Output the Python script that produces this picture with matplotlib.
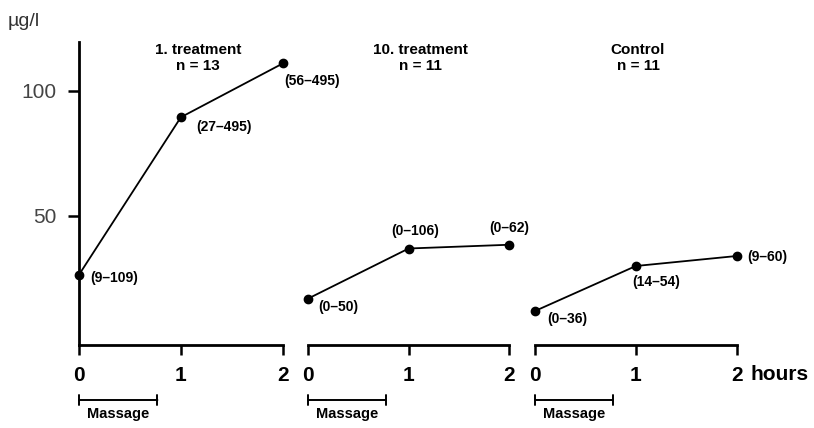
import matplotlib
matplotlib.use("Agg")
import matplotlib.pyplot as plt

plt.rcParams['font.family'] = ['Liberation Sans', 'DejaVu Sans']

hours = [0, 1, 2]
panel_titles = ["1. treatment\nn = 13", "10. treatment\nn = 11", "Control\nn = 11"]
values_t1 = [26.5, 89.5, 111]
values_t10 = [17, 37, 38.5]
values_ctrl = [12, 30, 34]
ranges_t1 = ["(9–109)", "(27–495)", "(56–495)"]
ranges_t10 = ["(0–50)", "(0–106)", "(0–62)"]
ranges_ctrl = ["(0–36)", "(14–54)", "(9–60)"]
massage_end = 0.77
yticks = [50, 100]

series = [values_t1, values_t10, values_ctrl]
ranges = [ranges_t1, ranges_t10, ranges_ctrl]

# label offsets in pixels (dx, dy upward), ha
px = 72 / 100
label_pos = [
    [(11, -3, 'left'), (15, -10, 'left'), (2, -18, 'left')],
    [(10, -9, 'left'), (7, 18, 'center'), (0, 17, 'center')],
    [(12, -8, 'left'), (20, -16, 'center'), (11, -1, 'left')],
]

W, H = 814, 428
fig = plt.figure(figsize=(W / 100, H / 100), dpi=100)
fig.patch.set_facecolor('white')

left_px = [79, 308.3, 535]
width_px = [203.7, 200.7, 201.7]
bottom = (H - 345) / H
height = (345 - 42) / H
title_x = [198, 420, 638]

for i in range(3):
    ax = fig.add_axes([left_px[i] / W, bottom, width_px[i] / W, height])
    ax.set_xlim(0, 2)
    ax.set_ylim(-1.6, 119.6)
    ax.plot(hours, series[i], color='black', lw=1.3, marker='o', ms=6,
            clip_on=False, zorder=3)
    for j, (h, v, r) in enumerate(zip(hours, series[i], ranges[i])):
        dx, dy, ha = label_pos[i][j]
        ax.annotate(r, xy=(h, v), xytext=(dx * px, dy * px),
                    textcoords='offset points', ha=ha, va='center',
                    fontsize=10, fontweight='bold', annotation_clip=False)
    for s in ['top', 'right']:
        ax.spines[s].set_visible(False)
    ax.spines['bottom'].set_linewidth(2)
    ax.spines['left'].set_linewidth(2)
    ax.set_xticks(hours)
    ax.set_xticklabels([str(h) for h in hours], fontweight='bold')
    ax.tick_params(axis='x', length=7, width=1.8, pad=8, labelsize=15)
    if i == 0:
        ax.set_yticks(yticks)
        ax.set_yticklabels([str(t) for t in yticks], color='#444444')
        ax.tick_params(axis='y', length=8, width=1.8, pad=8, labelsize=15)
    else:
        ax.spines['left'].set_visible(False)
        ax.set_yticks([])
    ax.patch.set_alpha(0)
    # massage bar
    yb = (341 - 400) / 2.5
    ax.annotate('', xy=(0, yb), xytext=(massage_end, yb),
                arrowprops=dict(arrowstyle='|-|, widthA=0.35, widthB=0.35',
                                lw=1.4, color='black', shrinkA=0, shrinkB=0),
                annotation_clip=False)
    ax.text(massage_end / 2, (341 - 414) / 2.5, 'Massage', ha='center',
            va='center', fontsize=10.5, fontweight='bold', clip_on=False)
    if i == 2:
        ax.annotate('hours', xy=(2, 0), xycoords=('data', 'axes fraction'),
                    xytext=(10, -30 * px), textcoords='offset points',
                    ha='left', va='center', fontsize=15, fontweight='bold')
    fig.text(title_x[i] / W, 1 - 58 / H, panel_titles[i], ha='center',
             va='center', fontsize=11, fontweight='bold', linespacing=1.25)

fig.text(8 / W, 1 - 22 / H, 'µg/l', ha='left', va='center', fontsize=14,
         color='#333333')

fig.savefig('out.png', dpi=100)
